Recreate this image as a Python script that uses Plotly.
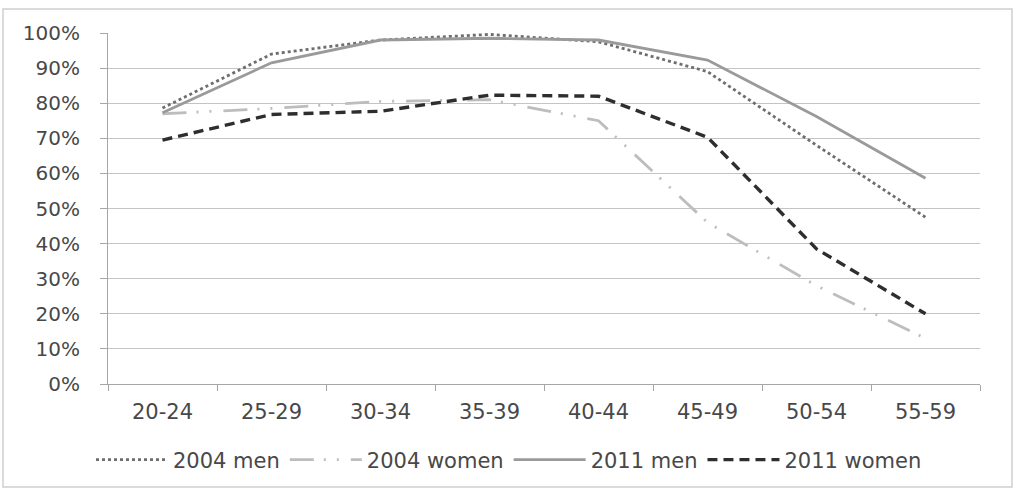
import plotly.graph_objects as go

categories = ["20-24", "25-29", "30-34", "35-39", "40-44", "45-49", "50-54", "55-59"]
men_2004 = [0.786, 0.94, 0.98, 0.996, 0.975, 0.89, 0.68, 0.475]
women_2004 = [0.77, 0.785, 0.805, 0.81, 0.75, 0.46, 0.28, 0.13]
men_2011 = [0.773, 0.915, 0.98, 0.985, 0.98, 0.923, 0.762, 0.586]
women_2011 = [0.695, 0.768, 0.777, 0.823, 0.82, 0.703, 0.385, 0.20]
y_ticks = [i / 10 for i in range(11)]
y_tick_labels = [f"{i*10}%" for i in range(11)]

FONT = "DejaVu Sans"
TXT = "#484848"

fig = go.Figure()
fig.add_trace(go.Scatter(x=categories, y=men_2004, name="2004 men", mode="lines",
                         line=dict(color="#6e6e6e", width=2.8, dash="dot")))
fig.add_trace(go.Scatter(x=categories, y=women_2004, name="2004 women", mode="lines",
                         line=dict(color="#bdbdbd", width=2.8, dash="24px,10px,2px,11px,2px,12px")))
fig.add_trace(go.Scatter(x=categories, y=men_2011, name="2011 men", mode="lines",
                         line=dict(color="#9a9a9a", width=2.8)))
fig.add_trace(go.Scatter(x=categories, y=women_2011, name="2011 women", mode="lines",
                         line=dict(color="#2e2e2e", width=3.4, dash="10px,6px")))

L, R, T, B = 108, 980, 33, 384
W, H = 1018, 494
pw, ph = R - L, B - T

def px_x(v):
    return (v - L) / pw

def px_y(v):
    return (B - v) / ph

fig.update_layout(
    width=W, height=H,
    margin=dict(l=L, r=W - R, t=T, b=H - B),
    paper_bgcolor="white", plot_bgcolor="white",
    font=dict(family=FONT, size=20, color=TXT),
    showlegend=True,
    legend=dict(orientation="h", xref="container", yref="container",
                x=0.5, xanchor="center", y=1 - 460 / H, yanchor="middle",
                font=dict(family=FONT, size=21, color=TXT),
                itemwidth=72, bgcolor="rgba(0,0,0,0)"),
    xaxis=dict(type="category", range=[-0.5, 7.5], showgrid=False,
               showline=True, linecolor="#a6a6a6", linewidth=1.2,
               ticks="outside", tickson="boundaries", ticklen=6, tickcolor="#a6a6a6",
               ticklabelstandoff=9,
               tickfont=dict(family=FONT, size=21, color=TXT), fixedrange=True),
    yaxis=dict(range=[0, 1], tickvals=y_ticks, ticktext=y_tick_labels,
               showgrid=True, gridcolor="#c4c4c4", gridwidth=1.2,
               showline=True, linecolor="#a6a6a6", linewidth=1.2,
               ticks="outside", ticklen=7, tickcolor="#a6a6a6",
               ticklabelstandoff=16,
               zeroline=False, tickfont=dict(family=FONT, size=20, color=TXT),
               fixedrange=True),
    shapes=[dict(type="rect", xref="paper", yref="paper",
                 x0=px_x(3), x1=px_x(1012), y0=px_y(487), y1=px_y(9),
                 line=dict(color="#cfcfcf", width=1.5), layer="below")],
)

fig.write_html("out.html")
